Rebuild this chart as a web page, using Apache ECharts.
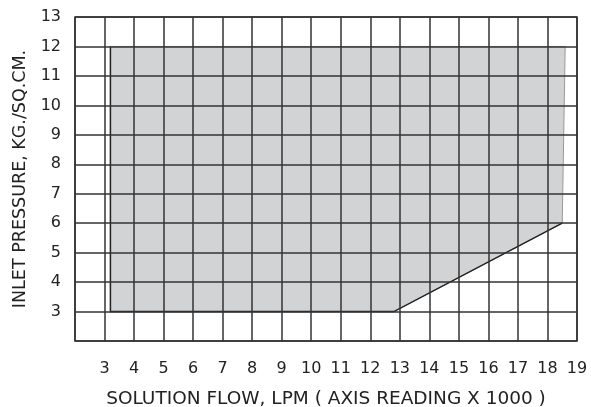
<!DOCTYPE html>
<html><head><meta charset="utf-8">
<script src="https://cdn.jsdelivr.net/npm/echarts@6/dist/echarts.min.js"></script>
<style>html,body{margin:0;padding:0;background:#fff}#c{width:591px;height:407px}</style>
</head><body><div id="c"></div>
<script>
// Operating envelope (solution flow x1000 LPM, inlet pressure kg/sq.cm)
var envelopeFlow = [3.2, 3.2, 18.6, 18.5, 12.8];
var envelopePressure = [3, 12, 12, 6, 3];
var xTicks = [3,4,5,6,7,8,9,10,11,12,13,14,15,16,17,18,19];
var yTicks = [3,4,5,6,7,8,9,10,11,12,13];
var xName = 'SOLUTION FLOW, LPM ( AXIS READING X 1000 )';
var yName = 'INLET PRESSURE, KG./SQ.CM.';

var pts = envelopeFlow.map(function(x,i){return [x, envelopePressure[i]];});
var chart = echarts.init(document.getElementById('c'));
var font = 'DejaVu Sans';
chart.setOption({
  animation:false,
  grid:{left:75, top:17, width:502, height:324, outerBoundsMode:'none', containLabel:false,
    show:true, borderColor:'#333', borderWidth:1.5, backgroundColor:'transparent'},
  xAxis:{type:'value', min:2, max:19, interval:1, z:5,
    name:xName, nameLocation:'middle', nameGap:49,
    nameTextStyle:{fontFamily:font, fontSize:18.5, color:'#222'},
    axisLine:{show:false}, axisTick:{show:false},
    splitLine:{show:true, lineStyle:{color:'#333', width:1.5}},
    axisLabel:{margin:20, fontFamily:font, fontSize:16, color:'#222',
      formatter:function(v){return xTicks.indexOf(v)>=0 ? String(v) : '';}}},
  yAxis:{type:'value', min:2, max:13, interval:1, z:5,
    name:yName, nameLocation:'middle', nameGap:46,
    nameTextStyle:{fontFamily:font, fontSize:17.5, color:'#222'},
    axisLine:{show:false}, axisTick:{show:false},
    splitLine:{show:true, lineStyle:{color:'#333', width:1.5}},
    axisLabel:{margin:14, fontFamily:font, fontSize:16, color:'#222',
      formatter:function(v){return yTicks.indexOf(v)>=0 ? String(v) : '';}}},
  series:[{
    type:'custom', z:1, data:[0],
    renderItem:function(params, api){
      var p = pts.map(function(d){return api.coord(d);});
      return {type:'group', children:[
        {type:'polygon', shape:{points:p}, style:{fill:'#d2d3d5', stroke:'#999', lineWidth:1}},
        {type:'polyline', shape:{points:[p[1],p[0],p[4],p[3]]}, style:{fill:null, stroke:'#222', lineWidth:1.5}}
      ]};
    }
  }]
});
</script></body></html>
